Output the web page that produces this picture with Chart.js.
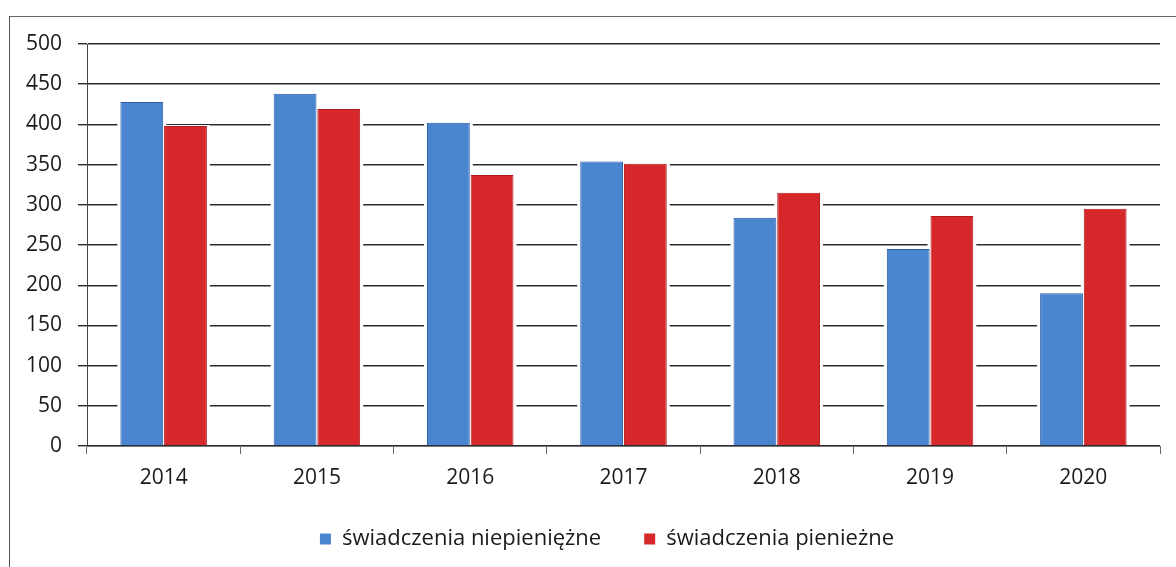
<!DOCTYPE html>
<html>
<head>
<meta charset="utf-8">
<script src="https://cdn.jsdelivr.net/npm/chart.js@4.4.1/dist/chart.umd.min.js"></script>
<style>
  html, body { margin: 0; padding: 0; background: #fff; }
  #wrap { position: relative; width: 1176px; height: 567px; overflow: hidden; }
  #frame { position: absolute; left: 9px; top: 16px; width: 1200px; height: 600px; border-left: 1px solid #555; border-top: 1px solid #666; }
  canvas { position: absolute; left: 0; top: 0; }
</style>
</head>
<body>
<div id="wrap">
  <div id="frame"></div>
  <canvas id="c" width="1176" height="567"></canvas>
</div>
<script>
const years = ['2014', '2015', '2016', '2017', '2018', '2019', '2020'];
const niepieniezne = [428, 438, 402, 354, 284, 245, 190];
const pieniezne = [398, 419, 337, 351, 315, 286, 295];
const seriesNames = ['świadczenia niepieniężne', 'świadczenia pienieżne'];
const yTicks = [0, 50, 100, 150, 200, 250, 300, 350, 400, 450, 500];

const FONT = "'Open Sans', 'Noto Sans', sans-serif";

const haloPlugin = {
  id: 'halo',
  beforeDatasetsDraw(chart) {
    const ctx = chart.ctx;
    ctx.save();
    ctx.fillStyle = '#ffffff';
    chart.data.datasets.forEach((ds, i) => {
      const meta = chart.getDatasetMeta(i);
      meta.data.forEach(el => {
        const p = el.getProps(['x', 'y', 'base', 'width'], true);
        ctx.fillRect(p.x - p.width / 2 - 3, p.y - 1, p.width + 6, p.base - p.y);
      });
    });
    ctx.restore();
  }
};

const legendShift = {
  id: 'legendShift',
  afterLayout(chart) {
    if (chart.legend) { chart.legend.left += 22; chart.legend.right += 22; }
  }
};

new Chart(document.getElementById('c'), {
  type: 'bar',
  data: {
    labels: years,
    datasets: [
      { label: seriesNames[0], data: niepieniezne, backgroundColor: '#4a85d0', borderColor: '#2c5aa6', borderWidth: 1, borderSkipped: 'bottom' },
      { label: seriesNames[1], data: pieniezne, backgroundColor: '#d6282b', borderColor: '#b01b1f', borderWidth: 1, borderSkipped: 'bottom' }
    ]
  },
  options: {
    responsive: false,
    animation: false,
    devicePixelRatio: 1,
    layout: { padding: { top: 44, left: 10, right: 16, bottom: 7 } },
    datasets: { bar: { categoryPercentage: 0.57, barPercentage: 0.98 } },
    scales: {
      x: {
        offset: true,
        grid: { display: true, drawOnChartArea: false, drawTicks: true, tickLength: 8, color: '#666', offset: true },
        border: { display: true, color: '#777', width: 1 },
        ticks: { font: { family: FONT, size: 21 }, color: '#1a1a1a', padding: 11 },
        afterFit(s) { s.height = 72; }
      },
      y: {
        min: 0, max: 500,
        afterBuildTicks(s) { s.ticks = yTicks.map(v => ({ value: v })); },
        grid: { color: '#2a2a35', lineWidth: 1.4, tickLength: 9, drawTicks: true },
        border: { display: true, color: '#444', width: 1 },
        ticks: { font: { family: FONT, size: 21 }, color: '#1a1a1a', padding: 16 },
        afterFit(s) { s.width = 77; }
      }
    },
    plugins: {
      legend: {
        position: 'bottom',
        labels: {
          font: { family: FONT, size: 22 },
          color: '#1a1a1a',
          boxWidth: 11,
          boxHeight: 11,
          padding: 10,
          generateLabels(chart) {
            const items = Chart.defaults.plugins.legend.labels.generateLabels(chart);
            items.forEach((it, i) => {
              it.lineWidth = 0;
              if (i === 0) it.text = it.text + '\u2003\u2002';
            });
            return items;
          }
        }
      },
      tooltip: { enabled: false }
    }
  },
  plugins: [haloPlugin, legendShift]
});
</script>
</body>
</html>
